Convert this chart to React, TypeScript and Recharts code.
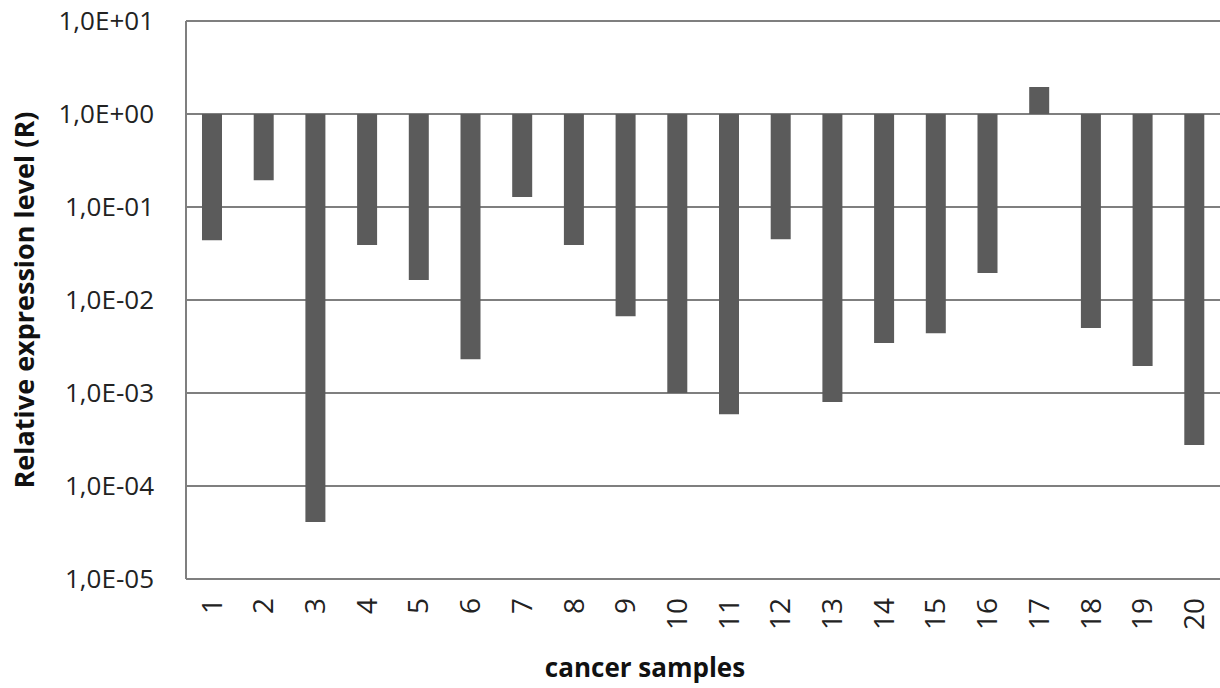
import React from "react";
import { BarChart, Bar, XAxis, YAxis, CartesianGrid, Label } from "recharts";

const samples = ["1", "2", "3", "4", "5", "6", "7", "8", "9", "10", "11", "12", "13", "14", "15", "16", "17", "18", "19", "20"];
const expression = [
  0.044, 0.194, 4.1e-5, 0.039, 0.0164, 0.0023, 0.128, 0.039, 0.0067, 0.001,
  5.9e-4, 0.045, 8.0e-4, 0.00345, 0.0044, 0.0195, 1.95, 0.005, 0.00195, 2.76e-4,
];
const yTicks = [1e-5, 1e-4, 1e-3, 1e-2, 1e-1, 1, 10];

const chartData = samples.map((s, i) => ({ name: s, value: expression[i] }));

const gridColor = "#7f7f7f";
const textColor = "#222";
const font = "'Open Sans', sans-serif";

function formatSci(v: number) {
  const exp = Math.round(Math.log10(v));
  const sign = exp < 0 ? "-" : "+";
  const abs = Math.abs(exp).toString().padStart(2, "0");
  return `1,0E${sign}${abs}`;
}

function XTick({ x, y, payload }: any) {
  return (
    <g transform={`translate(${x},${y + 19})`}>
      <text
        x={0}
        y={0}
        dy="0.35em"
        textAnchor="end"
        transform="rotate(-90)"
        fontFamily={font}
        fontSize={28}
        fill={textColor}
      >
        {payload.value}
      </text>
    </g>
  );
}

function YTitle({ viewBox }: any) {
  const cy = viewBox.y + viewBox.height / 2;
  return (
    <text
      x={0}
      y={0}
      transform={`translate(23,${cy}) rotate(-90)`}
      textAnchor="middle"
      dominantBaseline="central"
      fontFamily={font}
      fontWeight="bold"
      fontSize={27}
      fill="#111"
    >
      Relative expression level (R)
    </text>
  );
}

function XTitle() {
  return (
    <text
      x={645}
      y={667}
      textAnchor="middle"
      dominantBaseline="central"
      fontFamily={font}
      fontWeight="bold"
      fontSize={26}
      fill="#111"
    >
      cancer samples
    </text>
  );
}

export default function App() {
  return (
    <div style={{ position: "absolute", left: 0, top: 0, background: "#fff" }}>
      <BarChart
        width={1220}
        height={688}
        data={chartData}
        margin={{ top: 21, right: 0, bottom: 0, left: 0 }}
        barSize={20}
      >
        <CartesianGrid vertical={false} stroke={gridColor} strokeWidth={2} />
        <XAxis
          dataKey="name"
          type="category"
          height={109}
          tickLine={false}
          tickSize={0}
          tickMargin={0}
          interval={0}
          axisLine={{ stroke: gridColor, strokeWidth: 2 }}
          tick={<XTick />}
        >
          <Label content={<XTitle />} />
        </XAxis>
        <YAxis
          type="number"
          scale="log"
          domain={[1e-5, 10]}
          ticks={yTicks}
          interval={0}
          allowDataOverflow
          width={186}
          tickLine={false}
          tickSize={0}
          tickMargin={32}
          tickFormatter={formatSci}
          axisLine={{ stroke: gridColor, strokeWidth: 2 }}
          tick={{ fontFamily: font, fontSize: 26, fill: textColor }}
        >
          <Label content={<YTitle />} />
        </YAxis>
        <Bar
          dataKey={(d: any) => [1, d.value]}
          fill="#5b5b5b"
          isAnimationActive={false}
        />
      </BarChart>
    </div>
  );
}
